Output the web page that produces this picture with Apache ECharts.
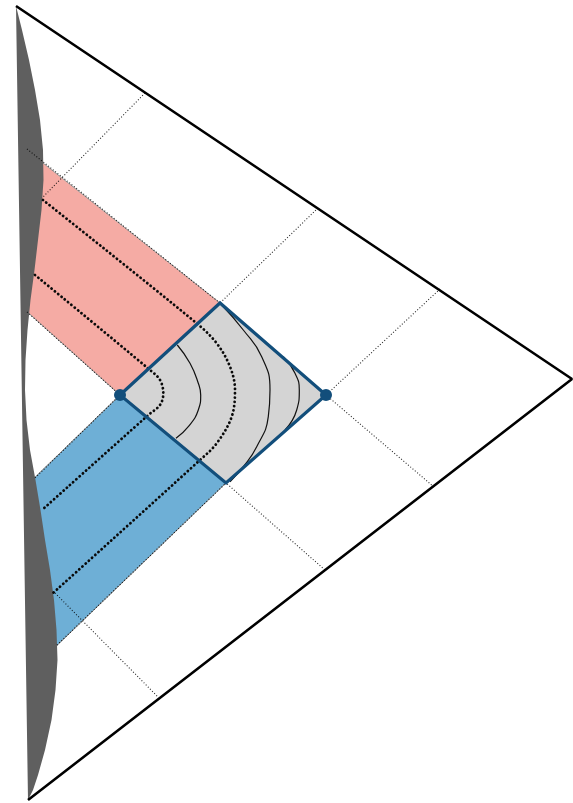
<!DOCTYPE html>
<html>
<head>
<meta charset="utf-8">
<style>
  html, body { margin: 0; padding: 0; background: #ffffff; }
  #chart { width: 573px; height: 803px; }
</style>
<script src="https://cdn.jsdelivr.net/npm/echarts@6/dist/echarts.min.js"></script>
</head>
<body>
<div id="chart"></div>
<script>
// Plane coordinates: x to the right, y downward (the y axis is inverted).

// Outer boundary: top vertex -> right vertex -> bottom vertex
const boundary = [[16, 6], [572, 379], [28, 800]];

// Left timelike boundary with the profile drawn against it
const wallTop = [16, 6];
const wallBottom = [28, 800];
const wallProfile = [
  [22, 30], [29, 60], [35, 90], [40, 120], [43, 150], [43.5, 180], [41.5, 210],
  [38, 240], [34.5, 270], [30.5, 300], [27.5, 330], [25.5, 360], [25, 390],
  [26.5, 420], [30, 450], [35.5, 480], [40.5, 510], [45, 540], [50, 570],
  [54, 600], [56.5, 630], [57.5, 660], [55.5, 690], [51.5, 720], [45, 750],
  [38, 775], [33, 790]
];

// Causal diamond: left, top, right, bottom corners
const diamond = [[120, 395], [220, 303], [326, 395], [226, 483]];
const diamondDots = [[120, 395], [326, 395]];

// Incoming (red) and outgoing (blue) strips
const redStrip = [[24, 148], [220, 303], [120, 395], [24, 309]];
const blueStrip = [[120, 395], [226, 483], [45, 657], [29, 483]];

// Fine null grid lines
const gridLines = [
  [[145, 93], [42, 198]],
  [[318, 208], [220, 303], [120, 395], [35, 478]],
  [[440, 289], [326, 395], [226, 483], [57, 645]],
  [[27, 149], [220, 303], [326, 395], [434, 487]],
  [[27, 312], [120, 395], [226, 483], [325, 570]],
  [[55, 593], [158, 697]]
];

// Heavy dotted rays, bent inside the diamond
const rayOuter = [
  [43, 200], [196.7, 323.3], [216.7, 343.3], [230, 366.7], [235, 390],
  [231.7, 416.7], [216.7, 443.3], [200, 460], [53, 593]
];
const rayInner = [
  [35, 275], [150, 370], [160, 380], [163.3, 393.3], [160, 405],
  [148.3, 415], [42, 510]
];

// Solid flow lines inside the diamond
const flowA = [[177.3, 345], [190, 363.3], [198.3, 383.3], [200.7, 395], [198.3, 410], [188.3, 426.7], [176, 438.3]];
const flowB = [[221.7, 305], [243.3, 330], [261.7, 356.7], [270, 390], [268.3, 416.7], [256.7, 446.7], [243.3, 466.7], [230, 481.7]];
const flowC = [[283.3, 356.7], [295, 373.3], [299.3, 390], [296.7, 410], [285, 430]];

const BLUE = '#124e7b';

function polygonSeries(pts, style, z) {
  return {
    type: 'custom',
    coordinateSystem: 'cartesian2d',
    silent: true,
    z: z,
    data: pts,
    renderItem: function (params, api) {
      if (params.dataIndex !== 0) return null;
      return {
        type: 'polygon',
        shape: { points: pts.map(function (p) { return api.coord(p); }) },
        style: style
      };
    }
  };
}

function lineSeries(pts, lineStyle, z, smooth) {
  return {
    type: 'line',
    data: pts,
    symbol: 'none',
    silent: true,
    smooth: smooth || false,
    z: z,
    lineStyle: lineStyle
  };
}

const wallShape = [wallTop].concat(wallProfile, [wallBottom]);

const series = [
  polygonSeries(redStrip, { fill: '#f5aba4', stroke: '#9a9a9a', lineWidth: 1 }, 1),
  polygonSeries(blueStrip, { fill: '#6eafd6', stroke: '#8a8a8a', lineWidth: 1 }, 1),
  polygonSeries(wallShape, { fill: '#5f5f5f' }, 2)
];

gridLines.forEach(function (seg) {
  series.push(lineSeries(seg, { color: '#000', width: 1.1, type: [1, 2], opacity: 0.85 }, 3));
});

series.push(polygonSeries(diamond, { fill: '#d4d4d4' }, 4));

[rayOuter, rayInner].forEach(function (r) {
  series.push(lineSeries(r, { color: '#0a0a0a', width: 2.8, type: [0.1, 4.2], cap: 'round' }, 5, 0.35));
});

[flowA, flowB, flowC].forEach(function (f) {
  series.push(lineSeries(f, { color: '#111', width: 1.2 }, 5, 0.5));
});

series.push(polygonSeries(diamond, { fill: 'none', stroke: BLUE, lineWidth: 3.2, lineJoin: 'miter' }, 6));

series.push(lineSeries(boundary, { color: '#000', width: 2.6 }, 6));

series.push({
  type: 'scatter',
  data: diamondDots,
  symbol: 'circle',
  symbolSize: 12,
  silent: true,
  z: 7,
  itemStyle: { color: BLUE, opacity: 1 }
});

const chart = echarts.init(document.getElementById('chart'), null, { renderer: 'canvas' });
chart.setOption({
  animation: false,
  backgroundColor: '#ffffff',
  grid: { left: 0, right: 0, top: 0, bottom: 0 },
  xAxis: { type: 'value', min: 0, max: 573, show: false },
  yAxis: { type: 'value', min: 0, max: 803, inverse: true, show: false },
  series: series
});
</script>
</body>
</html>
